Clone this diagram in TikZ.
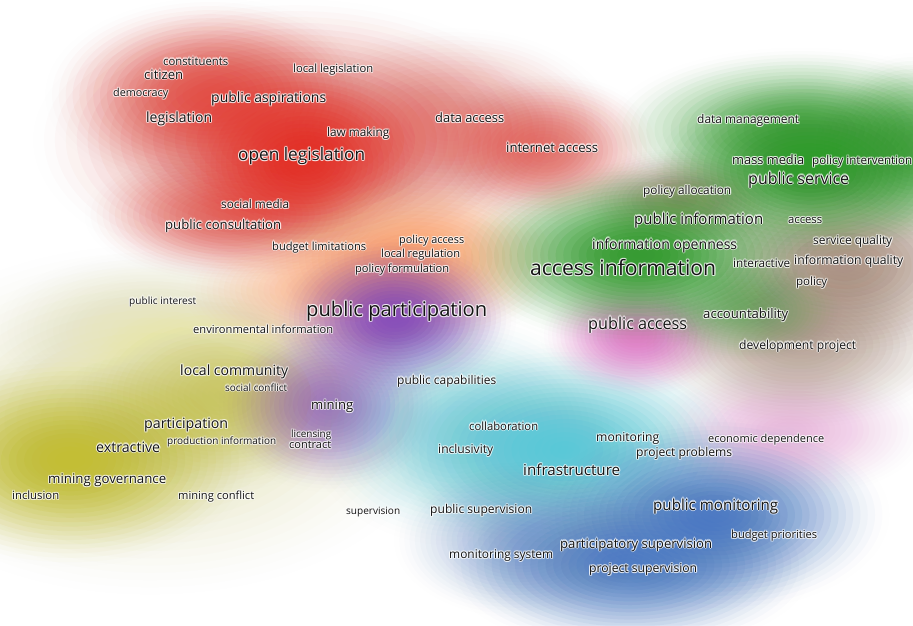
\documentclass[tikz,border=0pt]{standalone}
\usepackage{fontspec}
\setmainfont{Open Sans}
\definecolor{vred}{RGB}{226,50,40}
\definecolor{vorange}{RGB}{250,160,100}
\definecolor{vyellow}{RGB}{195,190,40}
\definecolor{vpurple}{RGB}{135,75,185}
\definecolor{vcyan}{RGB}{80,200,215}
\definecolor{vblue}{RGB}{70,120,195}
\definecolor{vpink}{RGB}{225,115,200}
\definecolor{vgreen}{RGB}{45,155,40}
\definecolor{vbrown}{RGB}{150,115,95}
\definecolor{vtext}{RGB}{20,20,20}
% smooth blob: alpha(g) = s*(1-g^2)^2, built from 24 nested ellipses
\newcommand\vblob[6]{%
  \foreach \k in {1,...,24}{%
    \pgfmathsetmacro\vop{1-(1-#6*(1-((\k-1)/24)^2)^2)/(1-#6*(1-(\k/24)^2)^2)}%
    \pgfmathsetmacro\vf{0.97*\k/24}%
    \fill[#5,opacity=\vop] (#1,#2) ellipse [x radius={#3pt*\vf}, y radius={#4pt*\vf}];}}
% label with a soft white glow round its letters
\newcommand\vlbl[5]{%
  \foreach \dx/\dy [count=\i] in {1.1/0,-1.1/0,0/1.1,0/-1.1,0.8/0.8,-0.8/0.8,0.8/-0.8,-0.8/-0.8}{%
    \node[lblst,text=white,opacity=0.55] (#1-h\i) at (#2+\dx,#3+\dy) {\resizebox{#4pt}{!}{#5}};}%
  \node[lblst] (#1) at (#2,#3) {\resizebox{#4pt}{!}{#5}};}
\tikzset{lblst/.style={anchor=base west, inner sep=0pt, text=vtext}}
\begin{document}
\begin{tikzpicture}[x=1pt,y=-1pt]
\useasboundingbox (0,0) rectangle (913,625);
\fill[white] (0,0) rectangle (913,625);
\begin{scope}
\clip (0,0) rectangle (913,625);
% yellow cluster
\vblob{150}{420}{300}{180}{vyellow!45}{0.6}
\vblob{70}{460}{190}{110}{vyellow}{0.88}
\vblob{220}{395}{150}{100}{vyellow}{0.55}
\vblob{150}{330}{160}{80}{vyellow!40}{0.5}
% red cluster
\vblob{295}{140}{270}{145}{vred}{0.62}
\vblob{305}{162}{130}{95}{vred}{0.82}
\vblob{210}{95}{170}{100}{vred}{0.68}
\vblob{230}{215}{150}{70}{vred}{0.6}
\vblob{450}{125}{170}{100}{vred}{0.38}
\vblob{545}{150}{120}{80}{vred}{0.58}
% orange
\vblob{415}{258}{160}{90}{vorange}{0.85}
\vblob{320}{290}{140}{70}{vorange}{0.55}
% purple
\vblob{395}{318}{125}{85}{vpurple}{0.92}
\vblob{330}{405}{115}{90}{vpurple}{0.65}
% cyan
\vblob{565}{450}{190}{110}{vcyan}{0.85}
\vblob{460}{430}{160}{120}{vcyan}{0.5}
% blue
\vblob{715}{515}{180}{100}{vblue}{0.88}
\vblob{630}{565}{190}{90}{vblue}{0.85}
\vblob{520}{540}{130}{80}{vblue}{0.45}
% pink
\vblob{637}{335}{100}{65}{vpink}{0.85}
\vblob{790}{430}{140}{70}{vpink}{0.4}
% brown
\vblob{845}{265}{165}{100}{vbrown}{0.7}
\vblob{800}{345}{165}{85}{vbrown}{0.55}
\vblob{680}{200}{110}{55}{vbrown}{0.7}
% green
\vblob{640}{255}{190}{95}{vgreen}{0.92}
\vblob{810}{170}{165}{95}{vgreen}{0.88}
\vblob{800}{130}{200}{85}{vgreen}{0.72}
\vblob{913}{150}{100}{100}{vgreen}{0.7}
\vblob{745}{310}{100}{55}{vgreen}{0.45}
\end{scope}
% labels
\vlbl{constituents}{163}{65}{65}{constituents}
\vlbl{citizen}{144}{79}{39}{citizen}
\vlbl{localleg}{293}{72.7}{80}{local legislation}
\vlbl{democracy}{113}{96.7}{55}{democracy}
\vlbl{pubasp}{211}{102.7}{115}{public aspirations}
\vlbl{legislation}{146}{122.3}{66}{legislation}
\vlbl{lawmaking}{327}{136.7}{62}{law making}
\vlbl{openleg}{238}{160.7}{127}{open legislation}
\vlbl{dataacc}{435}{122.7}{69}{data access}
\vlbl{datamgmt}{697}{123.3}{102}{data management}
\vlbl{internet}{506}{152}{92}{internet access}
\vlbl{massmedia}{732}{164.7}{72}{mass media}
\vlbl{polint}{812}{164.7}{100}{policy intervention}
\vlbl{pubserv}{748}{184}{101}{public service}
\vlbl{polalloc}{643}{194.3}{88}{policy allocation}
\vlbl{socmedia}{221}{208.3}{68}{social media}
\vlbl{pubinfo}{634}{224}{129}{public information}
\vlbl{access}{788}{223.3}{34}{access}
\vlbl{pubcons}{165}{229}{116}{public consultation}
\vlbl{infoopen}{592}{249}{145}{information openness}
\vlbl{servqual}{813}{244.3}{79}{service quality}
\vlbl{budlim}{272}{250}{94}{budget limitations}
\vlbl{polacc}{399}{243.3}{65}{policy access}
\vlbl{locreg}{381}{257.7}{79}{local regulation}
\vlbl{interactive}{733}{267.7}{57}{interactive}
\vlbl{infoqual}{794}{264.7}{109}{information quality}
\vlbl{accinfo}{530}{275.7}{186}{access information}
\vlbl{polform}{355}{272.7}{94}{policy formulation}
\vlbl{policy}{796}{285.7}{31}{policy}
\vlbl{pubint}{129}{304}{67}{public interest}
\vlbl{pubpart}{306}{316.7}{181}{public participation}
\vlbl{accountability}{703}{318.3}{85}{accountability}
\vlbl{pubacc}{588}{329}{99}{public access}
\vlbl{envinfo}{193}{333.3}{140}{environmental information}
\vlbl{devproj}{739}{349}{117}{development project}
\vlbl{loccom}{180}{375.7}{108}{local community}
\vlbl{socconf}{225}{391}{62}{social conflict}
\vlbl{pubcap}{397}{384}{99}{public capabilities}
\vlbl{mining}{311}{409.3}{42}{mining}
\vlbl{collab}{469}{430}{69}{collaboration}
\vlbl{participation}{144}{428.3}{84}{participation}
\vlbl{licensing}{291}{437.3}{40}{licensing}
\vlbl{monitoring}{596}{441.3}{63}{monitoring}
\vlbl{econdep}{708}{442.3}{116}{economic dependence}
\vlbl{prodinfo}{167}{444.3}{109}{production information}
\vlbl{contract}{289}{448.3}{42}{contract}
\vlbl{inclusivity}{438}{453.3}{55}{inclusivity}
\vlbl{extractive}{96}{452}{64}{extractive}
\vlbl{projprob}{636}{456.7}{96}{project problems}
\vlbl{infrastructure}{523}{475.7}{97}{infrastructure}
\vlbl{mingov}{48}{483.3}{118}{mining governance}
\vlbl{inclusion}{12}{499.7}{47}{inclusion}
\vlbl{minconf}{178}{499.7}{76}{mining conflict}
\vlbl{pubmon}{653}{510}{125}{public monitoring}
\vlbl{supervision}{346}{514.3}{54}{supervision}
\vlbl{pubsup}{430}{513.3}{102}{public supervision}
\vlbl{budprio}{731}{538.3}{86}{budget priorities}
\vlbl{partsup}{560}{548}{152}{participatory supervision}
\vlbl{monsys}{449}{558.3}{104}{monitoring system}
\vlbl{projsup}{589}{572.3}{108}{project supervision}
\end{tikzpicture}
\end{document}
